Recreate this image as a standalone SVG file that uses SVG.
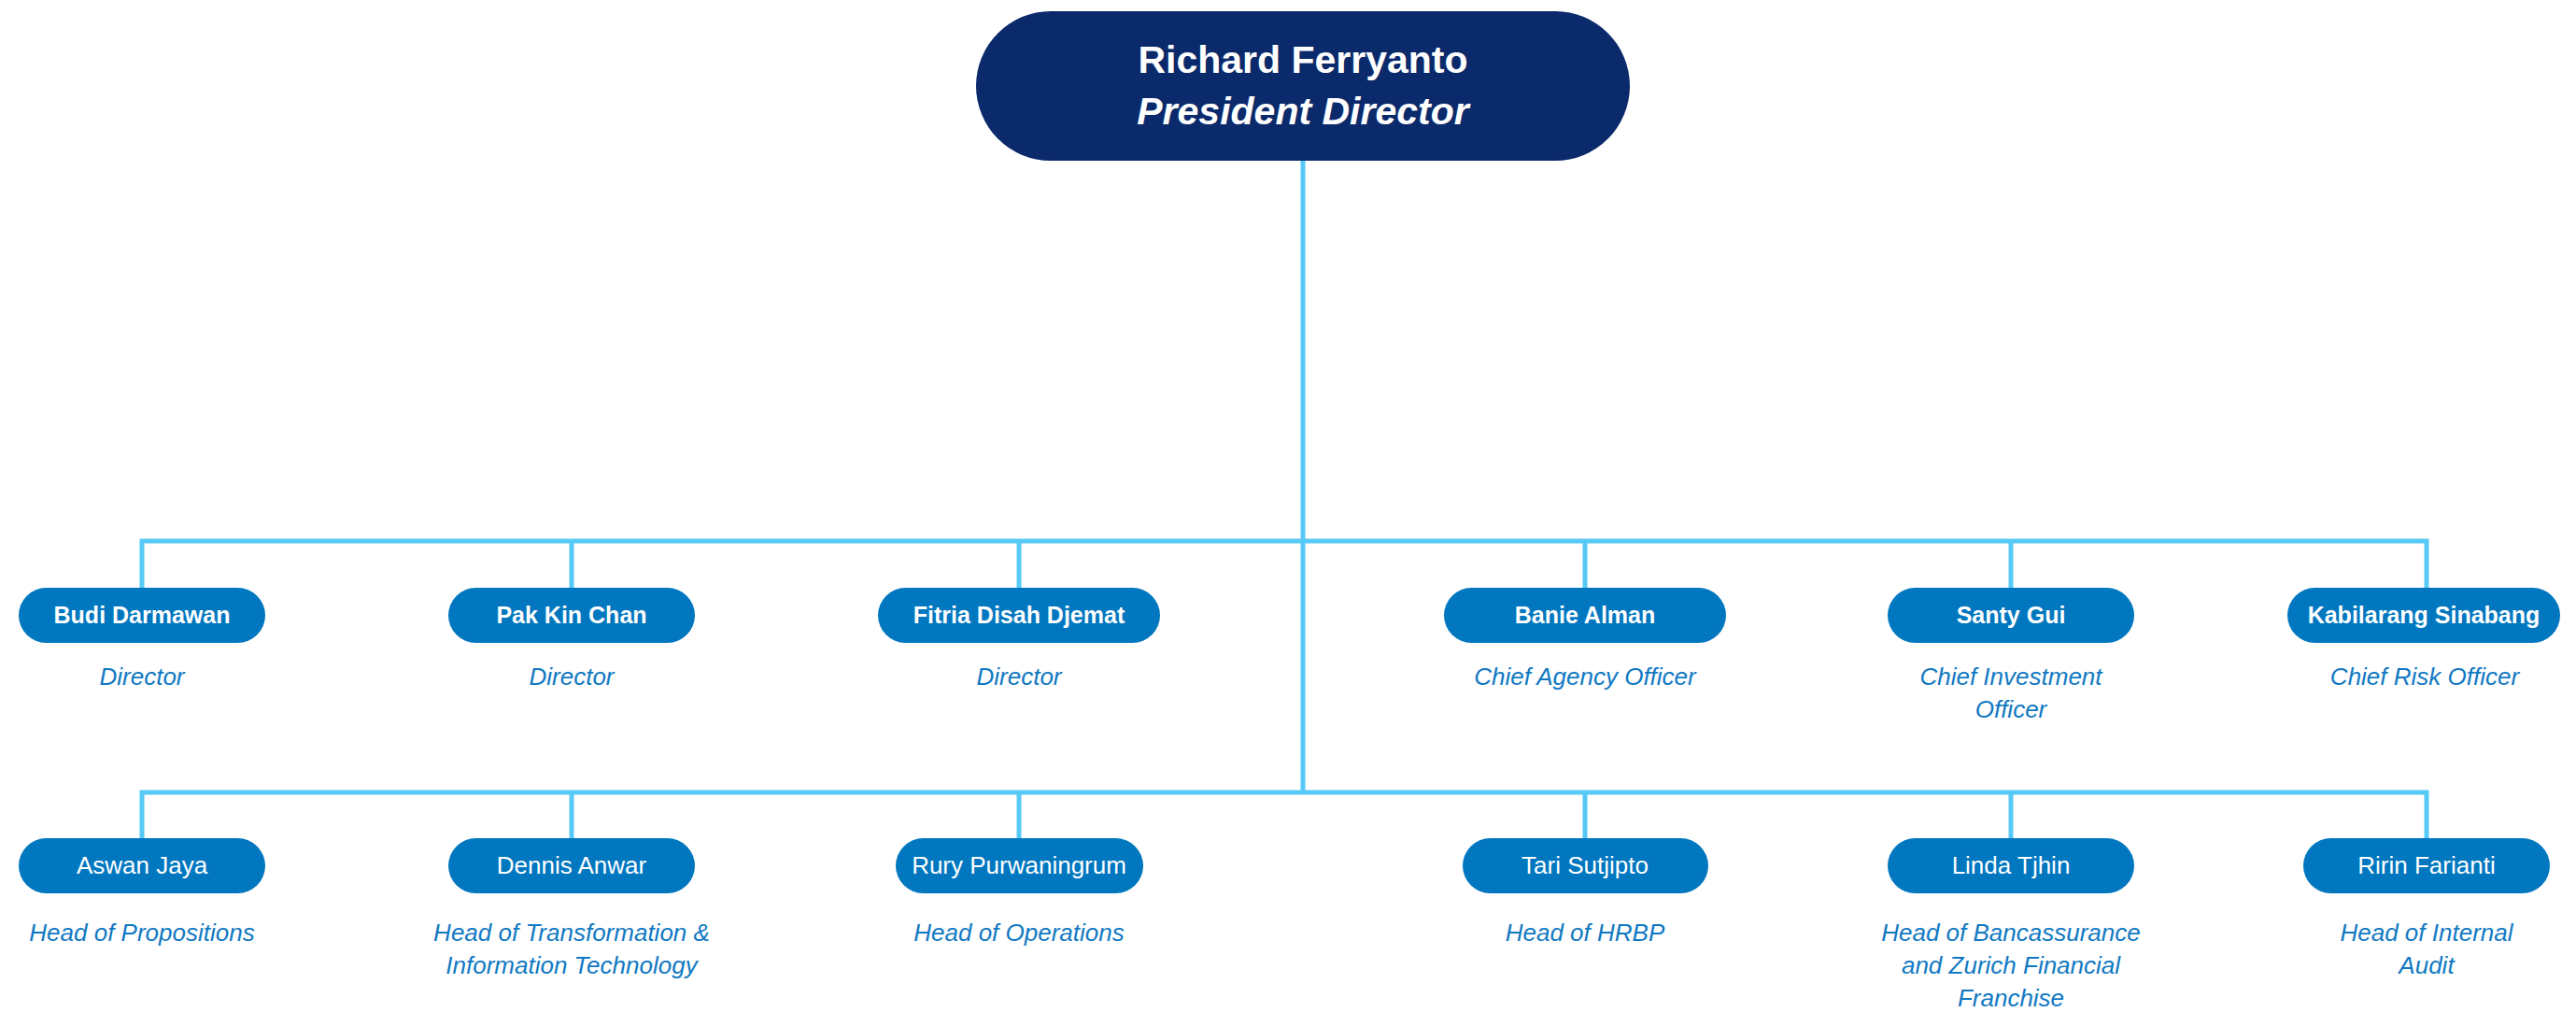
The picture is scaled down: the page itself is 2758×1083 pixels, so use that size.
<svg xmlns="http://www.w3.org/2000/svg" width="2758" height="1083" viewBox="0 0 2758 1083">
<style>
.bg{fill:#ffffff}
.conn{stroke:#56C9F6;stroke-width:5;fill:none}
.top{fill:#0B2A6B}
.node{fill:#0077BF}
.tname{font-family:"Liberation Sans",Arial,sans-serif;font-size:41px;font-weight:bold;fill:#fff;text-anchor:middle}
.ttitle{font-family:"Liberation Sans",Arial,sans-serif;font-size:41px;font-weight:bold;font-style:italic;fill:#fff;text-anchor:middle}
.n1{font-family:"Liberation Sans",Arial,sans-serif;font-size:25px;font-weight:bold;fill:#fff;text-anchor:middle}
.n2{font-family:"Liberation Sans",Arial,sans-serif;font-size:26px;fill:#fff;text-anchor:middle}
.role{font-family:"Liberation Sans",Arial,sans-serif;font-size:26px;font-style:italic;fill:#1179C2;text-anchor:middle}
</style>
<rect class="bg" x="0" y="0" width="2758" height="1083"/>
<g id="connectors">
<path class="conn" d="M1395 172 V848"/>
<path class="conn" d="M152 631 V579 H2598 V631"/>
<path class="conn" d="M612 579 V631 M1091 579 V631 M1697 579 V631 M2153 579 V631"/>
<path class="conn" d="M152 899 V848 H2598 V899"/>
<path class="conn" d="M612 848 V899 M1091 848 V899 M1697 848 V899 M2153 848 V899"/>
</g>
<g id="richard-ferryanto">
<rect class="top" x="1045" y="12" width="700" height="160" rx="80"/>
<text class="tname" x="1395" y="78">Richard Ferryanto</text>
<text class="ttitle" x="1395" y="133">President Director</text>
</g>
<g id="budi-darmawan">
<rect class="node" x="20" y="629" width="264" height="59" rx="29.5"/>
<text class="n1" x="152" y="667">Budi Darmawan</text>
<text class="role" x="152" y="733">Director</text>
</g>
<g id="pak-kin-chan">
<rect class="node" x="480" y="629" width="264" height="59" rx="29.5"/>
<text class="n1" x="612" y="667">Pak Kin Chan</text>
<text class="role" x="612" y="733">Director</text>
</g>
<g id="fitria-disah-djemat">
<rect class="node" x="940" y="629" width="302" height="59" rx="29.5"/>
<text class="n1" x="1091" y="667">Fitria Disah Djemat</text>
<text class="role" x="1091" y="733">Director</text>
</g>
<g id="banie-alman">
<rect class="node" x="1546" y="629" width="302" height="59" rx="29.5"/>
<text class="n1" x="1697" y="667">Banie Alman</text>
<text class="role" x="1697" y="733">Chief Agency Officer</text>
</g>
<g id="santy-gui">
<rect class="node" x="2021" y="629" width="264" height="59" rx="29.5"/>
<text class="n1" x="2153" y="667">Santy Gui</text>
<text class="role" x="2153" y="733">Chief Investment</text>
<text class="role" x="2153" y="768">Officer</text>
</g>
<g id="kabilarang-sinabang">
<rect class="node" x="2449" y="629" width="292" height="59" rx="29.5"/>
<text class="n1" x="2595" y="667">Kabilarang Sinabang</text>
<text class="role" x="2596" y="733">Chief Risk Officer</text>
</g>
<g id="aswan-jaya">
<rect class="node" x="20" y="897" width="264" height="59" rx="29.5"/>
<text class="n2" x="152" y="935">Aswan Jaya</text>
<text class="role" x="152" y="1007">Head of Propositions</text>
</g>
<g id="dennis-anwar">
<rect class="node" x="480" y="897" width="264" height="59" rx="29.5"/>
<text class="n2" x="612" y="935">Dennis Anwar</text>
<text class="role" x="612" y="1007">Head of Transformation &amp;</text>
<text class="role" x="612" y="1042">Information Technology</text>
</g>
<g id="rury-purwaningrum">
<rect class="node" x="959" y="897" width="265" height="59" rx="29.5"/>
<text class="n2" x="1091" y="935">Rury Purwaningrum</text>
<text class="role" x="1091" y="1007">Head of Operations</text>
</g>
<g id="tari-sutjipto">
<rect class="node" x="1566" y="897" width="263" height="59" rx="29.5"/>
<text class="n2" x="1697" y="935">Tari Sutjipto</text>
<text class="role" x="1697" y="1007">Head of HRBP</text>
</g>
<g id="linda-tjhin">
<rect class="node" x="2021" y="897" width="264" height="59" rx="29.5"/>
<text class="n2" x="2153" y="935">Linda Tjhin</text>
<text class="role" x="2153" y="1007">Head of Bancassurance</text>
<text class="role" x="2153" y="1042">and Zurich Financial</text>
<text class="role" x="2153" y="1077">Franchise</text>
</g>
<g id="ririn-farianti">
<rect class="node" x="2466" y="897" width="264" height="59" rx="29.5"/>
<text class="n2" x="2598" y="935">Ririn Farianti</text>
<text class="role" x="2598" y="1007">Head of Internal</text>
<text class="role" x="2598" y="1042">Audit</text>
</g>
</svg>
